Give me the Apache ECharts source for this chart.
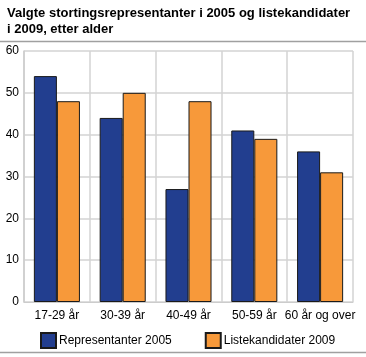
<!DOCTYPE html>
<html><head><meta charset="utf-8">
<script src="https://cdn.jsdelivr.net/npm/echarts@6/dist/echarts.min.js"></script>
<style>html,body{margin:0;padding:0;background:#fff}#c{width:366px;height:357px}</style>
</head><body><div id="c"></div>
<script>
const categories = ['17-29 år', '30-39 år', '40-49 år', '50-59 år', '60 år og over'];
const rep2005 = [54, 44, 27, 41, 36];
const liste2009 = [48, 50, 48, 39, 31];
const yTicks = [0, 10, 20, 30, 40, 50, 60];
const seriesNames = ['Representanter 2005', 'Listekandidater 2009'];

const chart = echarts.init(document.getElementById('c'), null, {renderer: 'canvas'});
const font = 'Arial, "Liberation Sans", sans-serif';
chart.setOption({
  animation: false,
  title: {
    text: 'Valgte stortingsrepresentanter i 2005 og listekandidater\ni 2009, etter alder',
    left: 2, top: 0,
    textStyle: {fontFamily: font, fontSize: 13, fontWeight: 'bold', color: '#000', lineHeight: 16}
  },
  graphic: [
    {type: 'line', shape: {x1: 0, y1: 41.5, x2: 366, y2: 41.5}, style: {stroke: '#a0a0a0', lineWidth: 1.5}},
    {type: 'line', shape: {x1: 0, y1: 352.5, x2: 366, y2: 352.5}, style: {stroke: '#a0a0a0', lineWidth: 1.5}}
  ],
  legend: {
    bottom: 3, left: 35, itemGap: 33, itemWidth: 15, itemHeight: 15,
    icon: 'rect',
    textStyle: {fontFamily: font, fontSize: 12, color: '#000', padding: [0, 0, 0, -2]},
    data: seriesNames
  },
  grid: {left: 24, right: 13, top: 51, bottom: 55, containLabel: false},
  xAxis: {
    type: 'category', data: categories,
    axisLine: {show: true, lineStyle: {color: '#cccccc', width: 1}},
    axisTick: {show: false},
    splitLine: {show: true, interval: 0, lineStyle: {color: '#d3d3d3', width: 1.5}},
    axisLabel: {fontFamily: font, fontSize: 12, color: '#000', margin: 8, interval: 0}
  },
  yAxis: {
    type: 'value', min: yTicks[0], max: yTicks[yTicks.length - 1], interval: 10,
    axisLine: {show: true, lineStyle: {color: '#cccccc', width: 1.5}},
    axisTick: {show: false},
    splitLine: {show: true, lineStyle: {color: '#d3d3d3', width: 1.5}},
    axisLabel: {fontFamily: font, fontSize: 12, color: '#000', margin: 5}
  },
  series: [
    {name: seriesNames[0], type: 'bar', data: rep2005, barGap: '0%', barCategoryGap: '30%',
     itemStyle: {color: '#223e8f', borderColor: '#1a1a1a', borderWidth: 1}},
    {name: seriesNames[1], type: 'bar', data: liste2009, barGap: '0%', barCategoryGap: '30%',
     itemStyle: {color: '#f7993a', borderColor: '#1a1a1a', borderWidth: 1}}
  ]
});
</script></body></html>
